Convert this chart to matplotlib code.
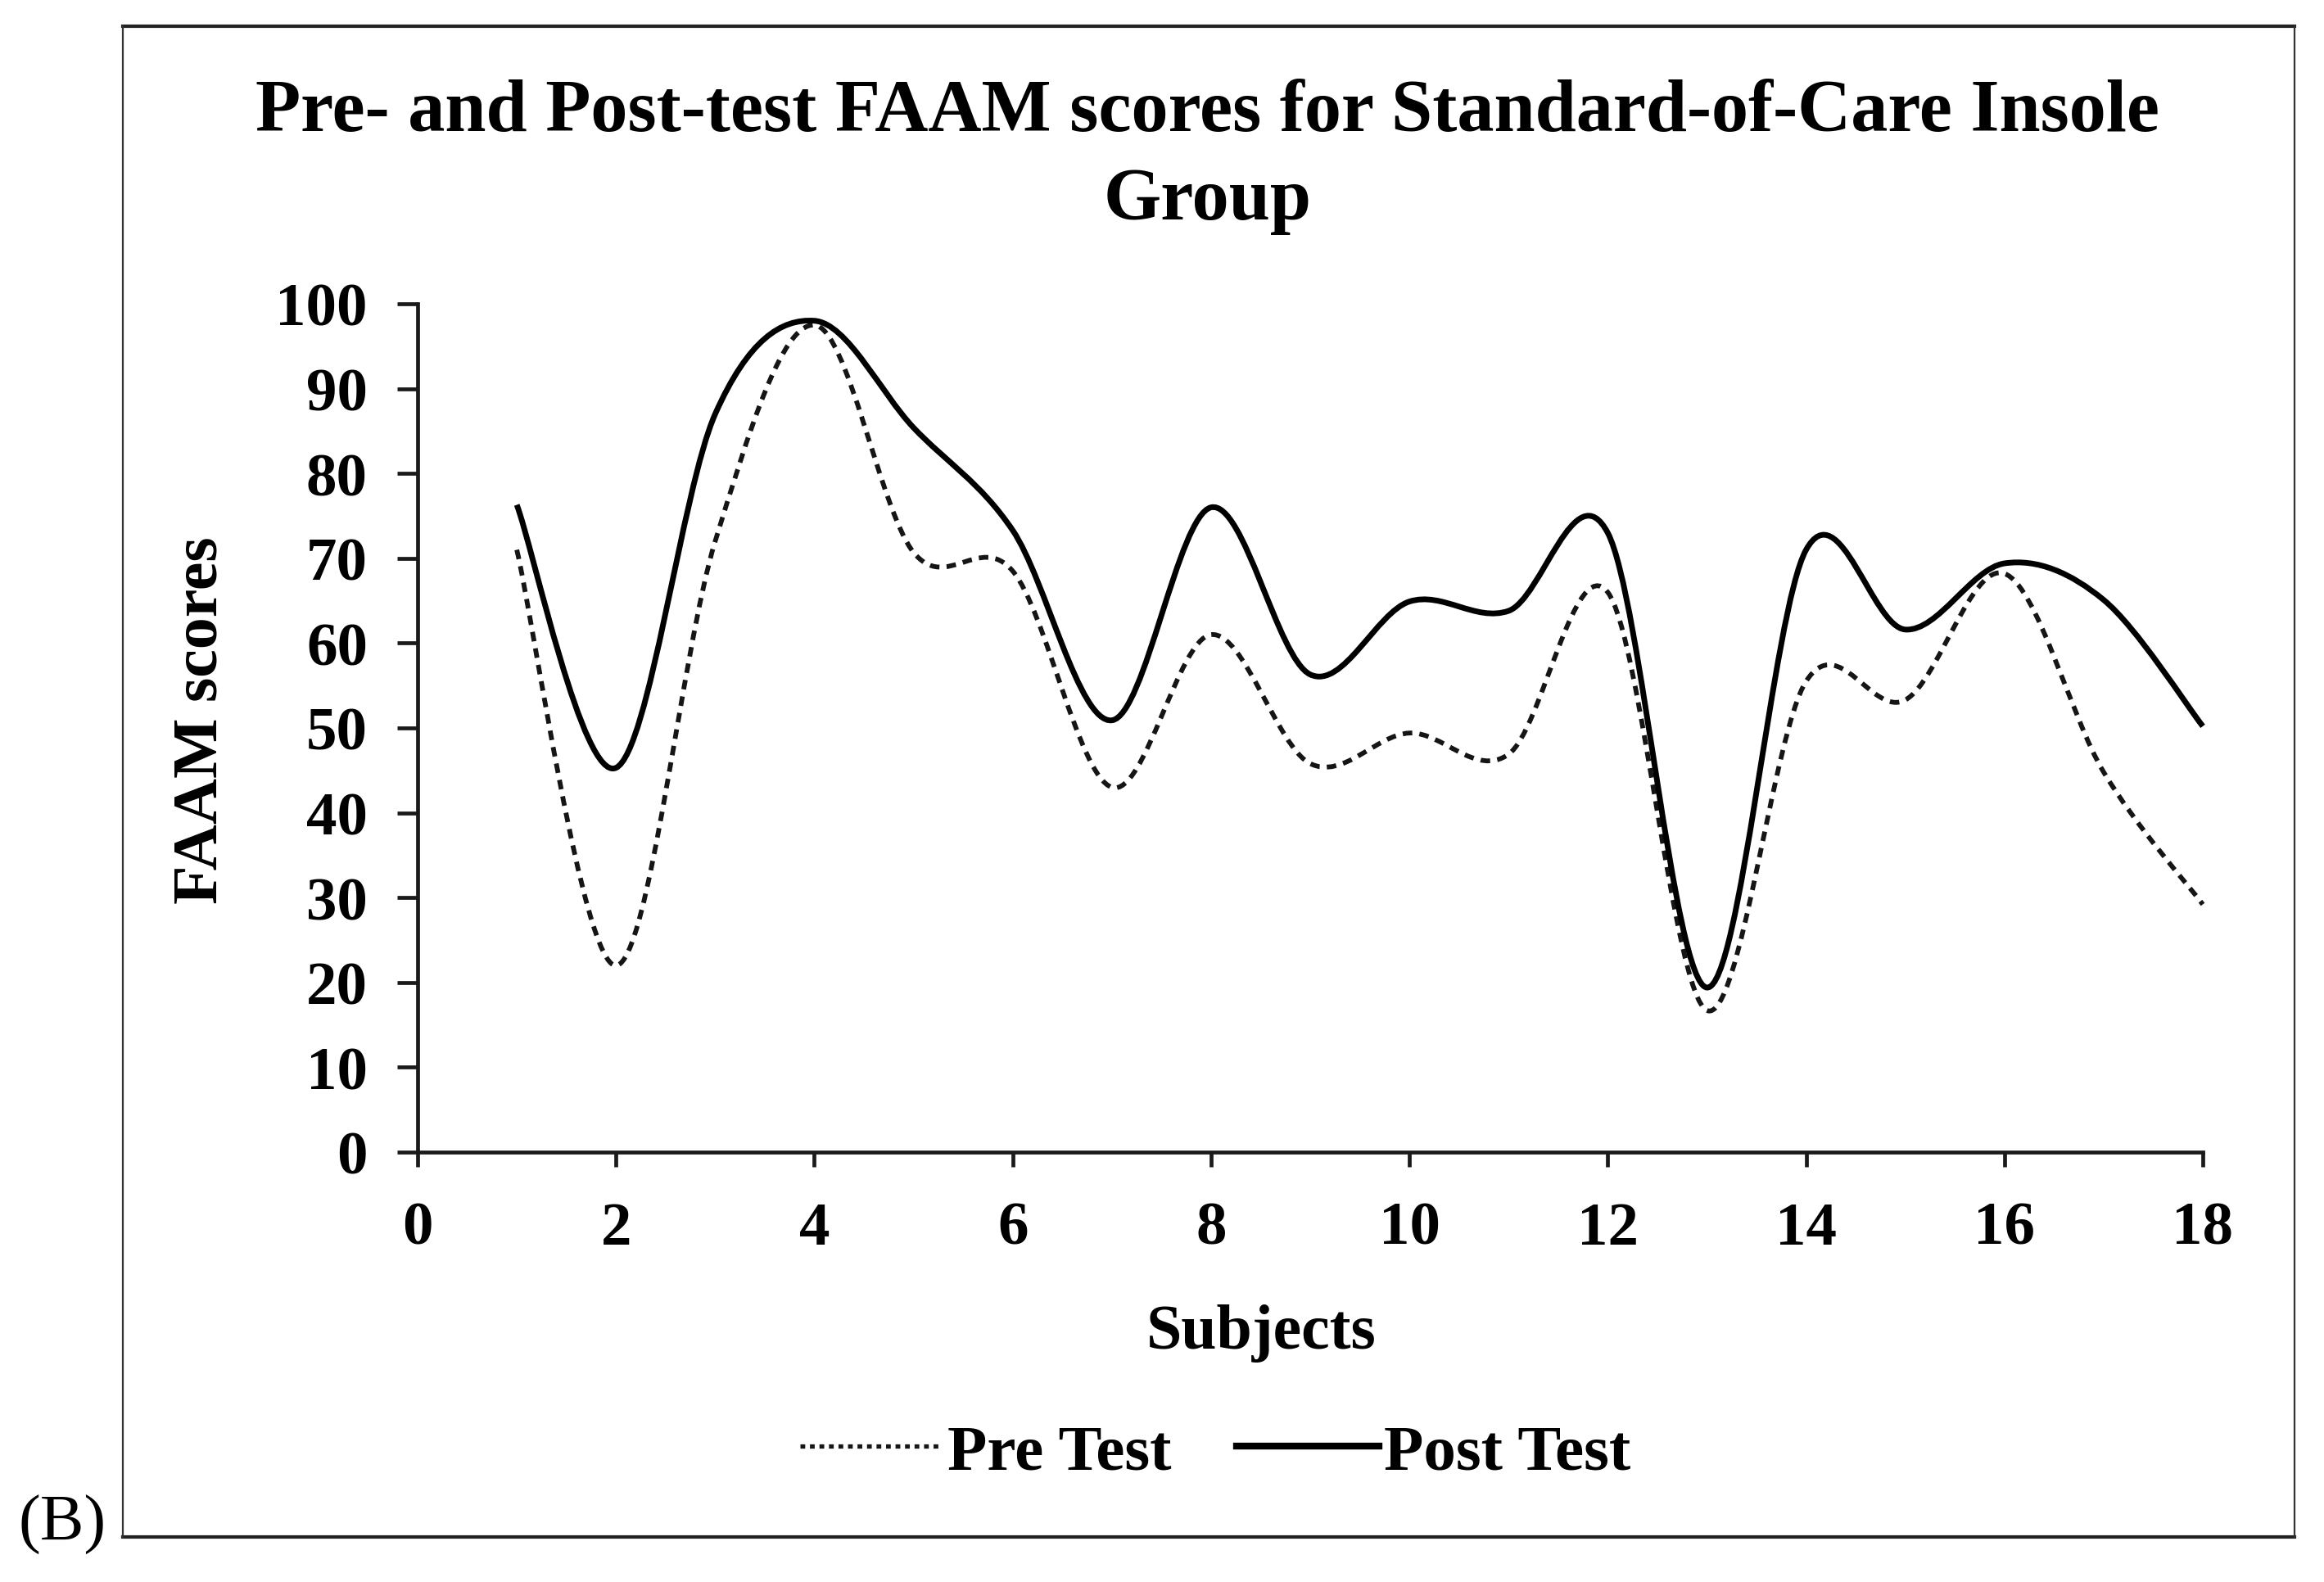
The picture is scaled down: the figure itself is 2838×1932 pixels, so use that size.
import numpy as np
import matplotlib
matplotlib.use("Agg")
import matplotlib.pyplot as plt
from matplotlib.path import Path
from matplotlib.patches import PathPatch
from matplotlib.lines import Line2D

# ---------------- data ----------------
subjects = [1, 2, 3, 4, 5, 6, 7, 8, 9, 10, 11, 12, 13, 14, 15, 16, 17, 18]
pre_test = [71, 22, 72, 97.5, 70.7, 68.5, 43, 61, 45.8, 49.4, 46.9, 66, 16.7, 55.5, 53.3, 68.2, 44.8, 29.2]
post_test = [76.3, 45.3, 87, 98, 85.4, 73.3, 50.9, 76, 56.3, 64.9, 63.8, 73, 19.4, 71, 61.6, 69.4, 65.1, 50.2]
x_ticks = [0, 2, 4, 6, 8, 10, 12, 14, 16, 18]
y_ticks = [0, 10, 20, 30, 40, 50, 60, 70, 80, 90, 100]
title_line1 = "Pre- and Post-test FAAM scores for Standard-of-Care Insole"
title_line2 = "Group"
series_names = ["Pre Test", "Post Test"]

W, H = 2838, 1933
SERIF = ["Liberation Serif", "DejaVu Serif"]
plt.rcParams['font.family'] = SERIF


def smooth_path(xs, ys):
    """Excel-style smoothed line: cubic Bezier segments through the points."""
    p = np.column_stack([xs, ys]).astype(float)
    n = len(p)
    verts = [p[0]]
    codes = [Path.MOVETO]
    for i in range(n - 1):
        p0 = p[i - 1] if i > 0 else p[i]
        p1 = p[i]
        p2 = p[i + 1]
        p3 = p[i + 2] if i + 2 < n else p[i + 1]
        c1 = p1 + (p2 - p0) / 6.0
        c2 = p2 - (p3 - p1) / 6.0
        verts += [c1, c2, p2]
        codes += [Path.CURVE4] * 3
    return Path(np.array(verts), codes)


fig = plt.figure(figsize=(W / 100, H / 100), dpi=100)
fig.patch.set_facecolor("white")

ax_l, ax_r, ax_t, ax_b = 510, 2690, 372, 1408
ax = fig.add_axes([ax_l / W, 1 - ax_b / H, (ax_r - ax_l) / W, (ax_b - ax_t) / H])
ax.set_xlim(0, 18)
ax.set_ylim(0, 100)

axis_col = "#1a1a1a"
for s in ["top", "right"]:
    ax.spines[s].set_visible(False)
for s in ["left", "bottom"]:
    ax.spines[s].set_linewidth(3.4)
    ax.spines[s].set_color(axis_col)
    ax.spines[s].set_capstyle("projecting")

ax.set_xticks(x_ticks)
ax.set_yticks(y_ticks)
ax.tick_params(axis="y", direction="out", length=18, width=3.4, color=axis_col, pad=26,
               labelsize=54)
ax.tick_params(axis="x", direction="out", length=13, width=3.4, color=axis_col, pad=30,
               labelsize=54)
for lab in ax.get_xticklabels() + ax.get_yticklabels():
    lab.set_fontweight("bold")
    lab.set_family(SERIF)

# curves
pre_patch = PathPatch(smooth_path(subjects, pre_test), fill=False, edgecolor="#151515",
                      linewidth=4.2, linestyle=(0, (2.0, 1.5)), clip_on=False,
                      capstyle="butt")
post_patch = PathPatch(smooth_path(subjects, post_test), fill=False, edgecolor="#000000",
                       linewidth=5.0, linestyle="-", clip_on=False, capstyle="butt")
ax.add_patch(pre_patch)
ax.add_patch(post_patch)

# title
fig.text(1474 / W, 1 - 160 / H, title_line1, ha="center", va="baseline",
         fontsize=65, fontweight="bold", family=SERIF)
fig.text(1475 / W, 1 - 268 / H, title_line2, ha="center", va="baseline",
         fontsize=65, fontweight="bold", family=SERIF)

# axis labels
fig.text(1540 / W, 1 - 1647 / H, "Subjects", ha="center", va="baseline",
         fontsize=56, fontweight="bold", family=SERIF)
fig.text(246 / W, 1 - 880 / H, "FAAM scores", ha="center", va="center", rotation=90,
         fontsize=56, fontweight="bold", family=SERIF)

# legend
handles = [Line2D([], [], color="#151515", lw=3.8, linestyle=(0, (1.1, 1.1))),
           Line2D([], [], color="#000000", lw=6.0, linestyle="-")]
leg = fig.legend(handles, series_names, loc="center", bbox_to_anchor=(1484 / W, 1 - 1775 / H),
                 ncol=2, frameon=False, handlelength=2.2, handletextpad=0.08,
                 columnspacing=1.0, prop={"family": SERIF, "weight": "bold", "size": 57})

# outer frame
bl, br, bt, bb = 150, 2802, 33, 1878
fx = lambda v: v / W
fy = lambda v: 1 - v / H
fig.add_artist(Line2D([fx(bl), fx(br)], [fy(bt), fy(bt)], transform=fig.transFigure,
                      color="#222222", lw=3.0, solid_capstyle="projecting"))
fig.add_artist(Line2D([fx(bl), fx(br)], [fy(bb), fy(bb)], transform=fig.transFigure,
                      color="#222222", lw=3.0, solid_capstyle="projecting"))
fig.add_artist(Line2D([fx(bl), fx(bl)], [fy(bt), fy(bb)], transform=fig.transFigure,
                      color="#333333", lw=1.6))
fig.add_artist(Line2D([fx(br), fx(br)], [fy(bt), fy(bb)], transform=fig.transFigure,
                      color="#333333", lw=1.6))

# panel label
fig.text(22 / W, 1 - 1882 / H, "(B)", ha="left", va="baseline", fontsize=58, family=SERIF)

fig.savefig("out.png", dpi=100, facecolor="white")
